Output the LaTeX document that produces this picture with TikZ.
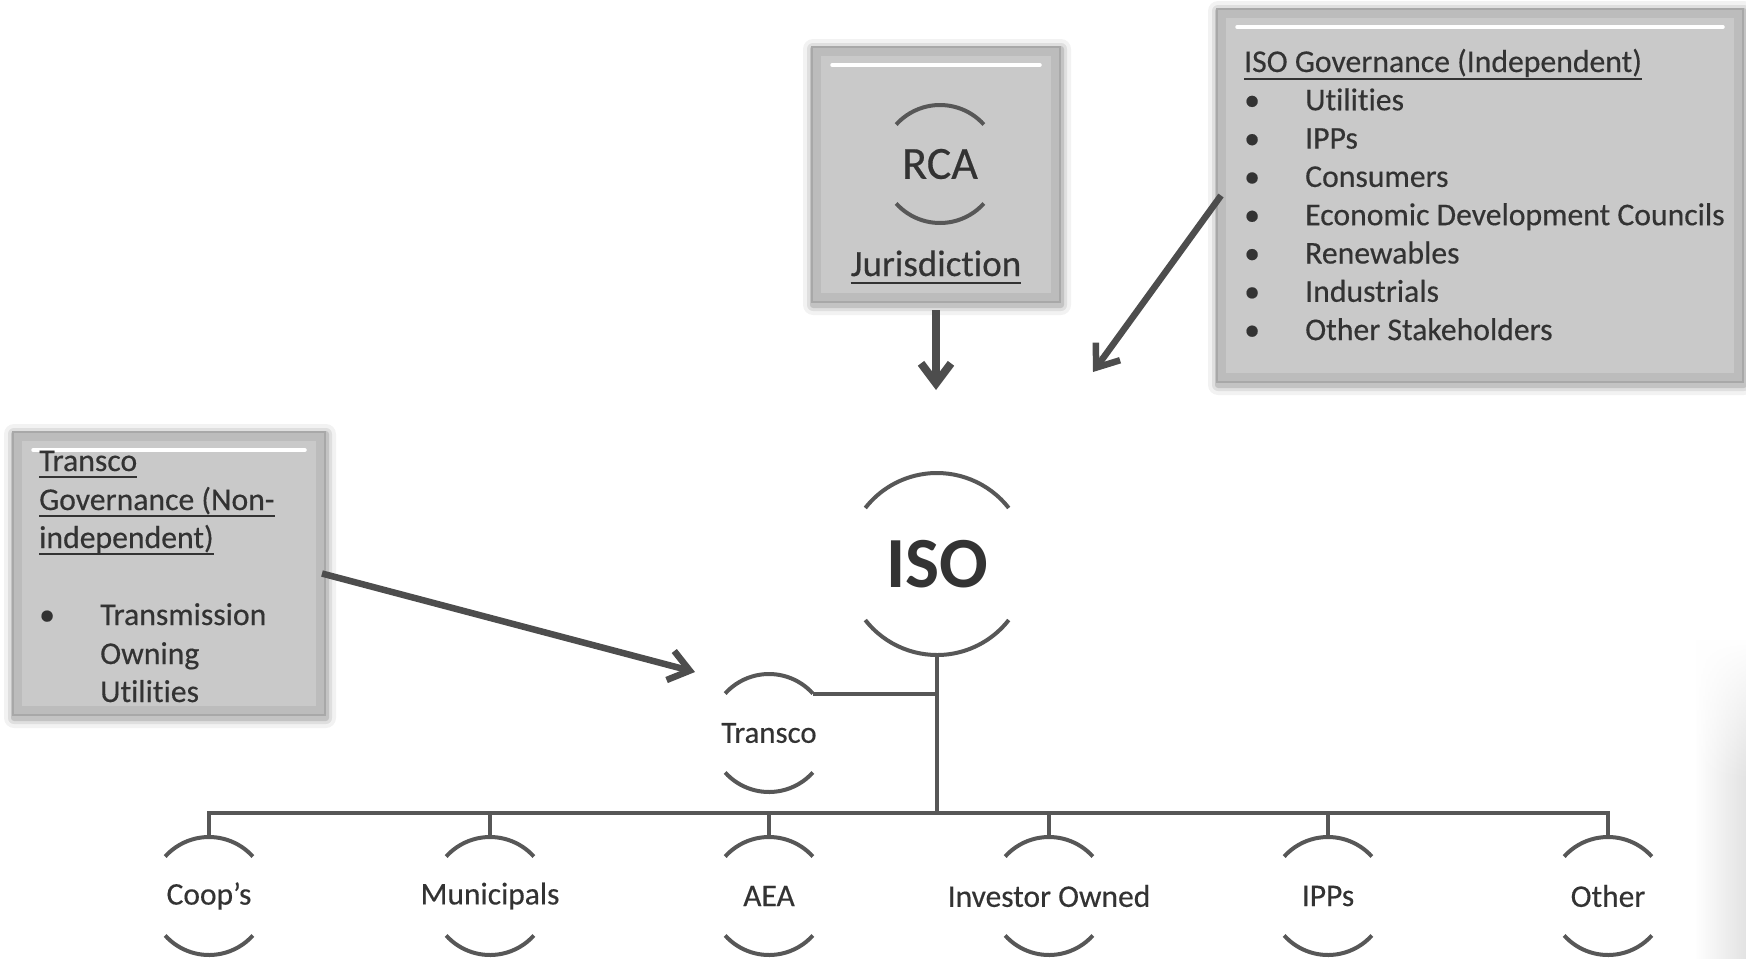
\documentclass[tikz,border=0pt]{standalone}
\usepackage{fontspec}
\setmainfont{Carlito}[Ligatures=NoCommon, FakeBold=0.35, BoldFeatures={FakeBold=0}]
\usetikzlibrary{arrows.meta,backgrounds,fadings}
\definecolor{ink}{HTML}{333333}
\definecolor{linec}{HTML}{575757}
\definecolor{arrowc}{HTML}{4D4D4D}
\definecolor{boxout}{HTML}{BCBCBC}
\definecolor{boxin}{HTML}{C9C9C9}
\definecolor{boxedge}{HTML}{A8A8A8}
\tikzfading[name=fadeleft, left color=transparent!100, right color=transparent!0]
\tikzfading[name=fadedown, top color=transparent!0, bottom color=transparent!100]
\tikzset{
  govbox/.style={rectangle, fill=boxout, draw=boxedge, line width=1.5pt, inner sep=0pt, outer sep=0pt, anchor=north west},
  ring/.style={circle, inner sep=0pt, outer sep=0pt, minimum size=118pt},
  bigring/.style={circle, inner sep=0pt, outer sep=0pt, minimum size=182pt},
  arcline/.style={draw=linec, line width=4pt},
  tree/.style={draw=linec, line width=4pt},
  bigarrow/.style={draw=arrowc, line width=6.5pt, -{Straight Barb[length=20pt,width=30pt]}},
  lbl/.style={text=ink, inner sep=0pt, font=\fontsize{31.5}{38}\selectfont},
  boxtxt/.style={text=ink, inner sep=0pt, anchor=base west, font=\fontsize{31.7}{39}\selectfont},
  uline/.style={draw=ink, line width=2.2pt},
}
\begin{document}
\begin{tikzpicture}[x=1pt,y=1pt]
\useasboundingbox (0,0) rectangle (1746,-959);

% boxes
\node[govbox, minimum width=248pt, minimum height=255pt] (rcabox) at (812,-47) {};
\node[govbox, minimum width=526pt, minimum height=373pt] (isogov) at (1217,-9) {};
\node[govbox, minimum width=312pt, minimum height=283pt] (transgov) at (13,-432) {};
\foreach \b in {rcabox,isogov,transgov}{
  \fill[boxin] ([shift={(9pt,-9pt)}]\b.north west) rectangle ([shift={(-9pt,9pt)}]\b.south east);
  \draw[white, line width=3.5pt, line cap=round] ([shift={(20pt,-18pt)}]\b.north west) -- ([shift={(-20pt,-18pt)}]\b.north east);
}

% RCA
\node[ring, label={[lbl, font=\fontsize{46}{50}\selectfont]center:RCA}] (rca) at (940,-164) {};
\node[text=ink, inner sep=0pt, anchor=base, font=\fontsize{37}{40}\selectfont] (jur) at (936,-276) {Jurisdiction};
\draw[uline] ([yshift=-7pt]jur.base west) -- ([yshift=-7pt]jur.base east);

% ISO governance text
\node[boxtxt] (isotitle) at (1244,-72) {ISO Governance (Independent)};
\draw[uline] ([yshift=-7pt]isotitle.base west) -- ([yshift=-7pt]isotitle.base east);
\foreach \t [count=\i] in {Utilities,IPPs,Consumers,Economic Development Councils,Renewables,Industrials,Other Stakeholders}{
  \node[boxtxt] (isob\i) at (1244,{-72-38.3*\i}) {•};
  \node[boxtxt] (isoi\i) at (1305,{-72-38.3*\i}) {\t};
}

% Transco governance text
\foreach \t/\y [count=\i] in {Transco/471,Governance (Non-/510,independent)/548}{
  \node[boxtxt] (tgt\i) at (39,-\y) {\t};
  \draw[uline] ([yshift=-6pt]tgt\i.base west) -- ([yshift=-6pt]tgt\i.base east);
}
\node[boxtxt] (tgb) at (39,-625) {•};
\foreach \t/\y [count=\i] in {Transmission/625,Owning/664,Utilities/702}{
  \node[boxtxt] (tgi\i) at (100,-\y) {\t};
}

% ISO and subordinate rings
\node[bigring, label={[lbl, font=\fontsize{72}{80}\selectfont\bfseries]center:ISO}] (iso) at (937,-564) {};
\node[ring, label={[lbl, font=\fontsize{30.8}{36}\selectfont]center:Transco}] (transco) at (769,-733) {};
\node[ring, label={[lbl]center:Coop’s}] (coop) at (209,-896) {};
\node[ring, label={[lbl]center:Municipals}] (muni) at (490,-896) {};
\node[ring, label={[lbl]center:AEA}] (aea) at (769,-896) {};
\node[ring, label={[lbl]center:Investor Owned}] (inv) at (1049,-896) {};
\node[ring, label={[lbl]center:IPPs}] (ipps) at (1328,-896) {};
\node[ring, label={[lbl]center:Other}] (other) at (1608,-896) {};

\foreach \n in {rca,transco,coop,muni,aea,inv,ipps,other}{
  \draw[arcline] (\n.42) arc[start angle=42, end angle=138, radius=59pt];
  \draw[arcline] (\n.222) arc[start angle=222, end angle=318, radius=59pt];
}
\draw[arcline] (iso.38) arc[start angle=38, end angle=142, radius=91pt];
\draw[arcline] (iso.218) arc[start angle=218, end angle=322, radius=91pt];

% tree connectors
\coordinate (bus) at (937,-813);
\draw[tree] (iso.south) -- (iso.south |- bus);
\draw[tree] (coop.north) -- (coop.north |- bus) -- (other.north |- bus) -- (other.north);
\foreach \n in {muni,aea,inv,ipps}{
  \draw[tree] (\n.north |- bus) -- (\n.north);
}
\draw[tree] (transco.42) -- (transco.42 -| iso.south);

% arrows
\coordinate (rcaend) at (936,-390);
\coordinate (isoend) at (1093,-372);
\coordinate (tend) at (695,-672);
\draw[bigarrow, line width=8pt] ([yshift=-8pt]rcabox.south) -- (rcaend);
\draw[bigarrow] ([xshift=4pt]isogov.west) -- (isoend);
\draw[bigarrow] ([xshift=-3pt]transgov.east) -- (tend);

% edge shading
\fill[black!11, path fading=fadeleft] (1695,-640) rectangle (1746,-959);
\fill[white, path fading=fadedown] (1694,-639) rectangle (1746,-780);

\begin{scope}[on background layer]
  \fill[white] (0,0) rectangle (1746,-959);
  \foreach \b in {rcabox,isogov,transgov}{
    \foreach \d/\o in {3/0.12,6/0.08,10/0.05}{
      \fill[black, opacity=\o, rounded corners=\d pt] ([shift={(-\d pt+1pt,\d pt-2pt)}]\b.north west) rectangle ([shift={(\d pt+1pt,-\d pt-3pt)}]\b.south east);
    }
  }
\end{scope}
\end{tikzpicture}
\end{document}
